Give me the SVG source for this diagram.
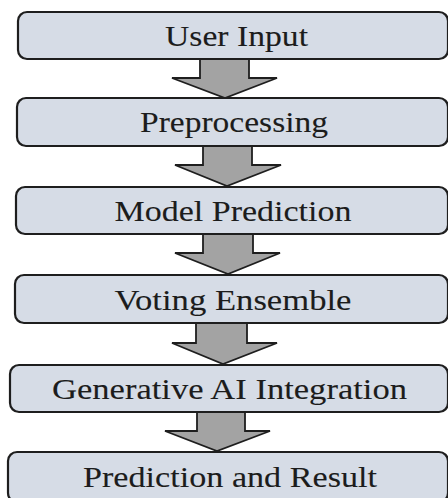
<svg xmlns="http://www.w3.org/2000/svg" width="448" height="498" viewBox="0 0 448 498">
  <defs>
    <style>
      .box { fill: #d6dce6; stroke: #1e1e1e; stroke-width: 2.2; }
      .lbl { font-family: "Liberation Serif", "Times New Roman", serif; font-size: 29px; fill: #1c1c1c; stroke: #1c1c1c; stroke-width: 0.1; text-anchor: middle; }
      .arrow { fill: #a3a3a3; stroke: #1e1e1e; stroke-width: 1.8; stroke-linejoin: miter; }
    </style>
  </defs>
  <rect width="448" height="498" fill="#ffffff"/>

  <!-- block arrows between stages -->
  <g id="connectors">
    <polygon class="arrow" points="200,59 249,59 249,78 277,78 225,98 172,78 200,78"/>
    <polygon class="arrow" points="203,146 252,146 252,165 281,165 227,186 175,165 203,165"/>
    <polygon class="arrow" points="203,234 253,234 253,253 280,253 228,274 175,253 203,253"/>
    <polygon class="arrow" points="196,323 247,323 247,343 277,343 223,364 172,343 196,343"/>
    <polygon class="arrow" points="197,412 245,412 245,431 270,431 217,451 165,431 197,431"/>
  </g>

  <g id="user-input">
    <rect class="box" x="18" y="12" width="430" height="47" rx="9"/>
    <text class="lbl" x="236.5" y="45.5" textLength="143" lengthAdjust="spacingAndGlyphs">User Input</text>
  </g>
  <g id="preprocessing">
    <rect class="box" x="17" y="98" width="431" height="48" rx="9"/>
    <text class="lbl" x="234" y="131.5" textLength="188" lengthAdjust="spacingAndGlyphs">Preprocessing</text>
  </g>
  <g id="model-prediction">
    <rect class="box" x="16" y="187" width="432" height="47" rx="9"/>
    <text class="lbl" x="233" y="220.5" textLength="237" lengthAdjust="spacingAndGlyphs">Model Prediction</text>
  </g>
  <g id="voting-ensemble">
    <rect class="box" x="15" y="275" width="433" height="48" rx="9"/>
    <text class="lbl" x="233" y="309.5" textLength="237" lengthAdjust="spacingAndGlyphs">Voting Ensemble</text>
  </g>
  <g id="generative-ai">
    <rect class="box" x="10" y="365" width="438" height="47" rx="9"/>
    <text class="lbl" x="229.5" y="398.5" textLength="355" lengthAdjust="spacingAndGlyphs">Generative AI Integration</text>
  </g>
  <g id="prediction-result">
    <rect class="box" x="8" y="452" width="440" height="50" rx="9"/>
    <text class="lbl" x="230" y="486.5" textLength="294" lengthAdjust="spacingAndGlyphs">Prediction and Result</text>
  </g>
</svg>
